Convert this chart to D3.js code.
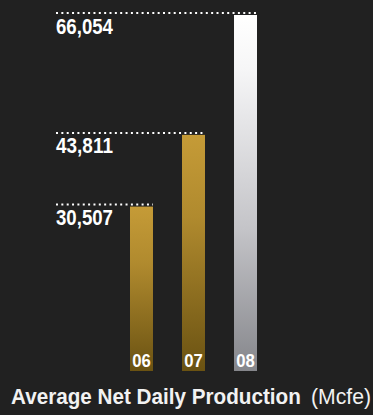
<!DOCTYPE html>
<html>
<head>
<meta charset="utf-8">
<script src="https://cdn.jsdelivr.net/npm/d3@7"></script>
<style>
    html, body { margin: 0; padding: 0; background: #212121; }
    svg { display: block; }
    text { font-family: 'Liberation Sans', Arial, sans-serif; }
</style>
</head>
<body>
<svg width="373" height="415"></svg>
<script>
const years = ['06', '07', '08'];
const production = [30507, 43811, 66054];
const valueLabels = ['30,507', '43,811', '66,054'];
const titleBold = 'Average Net Daily Production';
const titleUnit = '(Mcfe)';

const svg = d3.select('svg');

const xScale = d3.scaleBand()
    .domain(years)
    .range([130, 257])
    .paddingInner(0.558)
    .paddingOuter(0);

const yScale = d3.scaleLinear()
    .domain([0, d3.max(production)])
    .range([371, 15]);

// gradients: gold for older years, silver for latest
const defs = svg.append('defs');
const addGradient = (id, stops) => {
    const g = defs.append('linearGradient')
        .attr('id', id)
        .attr('x1', 0).attr('y1', 0)
        .attr('x2', 0).attr('y2', 1);
    stops.forEach(([o, c]) => g.append('stop').attr('offset', o).attr('stop-color', c));
};
addGradient('gold', [[0, '#c59b37'], [0.35, '#b08a2e'], [1, '#6a5212']]);
addGradient('silver', [[0, '#ffffff'], [0.15, '#f6f6f7'], [0.6, '#c4c4c8'], [1, '#85868b']]);

// squeeze text horizontally to the condensed widths of the reference
// (text is drawn at 0,0 and placed with a transform)
const squeeze = (sel, w, xFn, yFn) => {
    sel.each(function (d, i) {
        const natural = this.getComputedTextLength();
        const x = typeof xFn === 'function' ? xFn(d, i) : xFn;
        const y = typeof yFn === 'function' ? yFn(d, i) : yFn;
        d3.select(this).attr('transform', `translate(${x},${y}) scale(${w / natural},1)`);
    });
};

const rows = years.map((y, i) => ({ year: y, value: production[i], label: valueLabels[i] }));

svg.selectAll('rect.bar')
    .data(rows)
    .join('rect')
    .attr('class', 'bar')
    .attr('x', (d) => xScale(d.year))
    .attr('y', (d) => yScale(d.value))
    .attr('width', xScale.bandwidth())
    .attr('height', (d) => yScale(0) - yScale(d.value))
    .attr('fill', (d, i) => (i === rows.length - 1 ? 'url(#silver)' : 'url(#gold)'));

// dotted leader lines
svg.selectAll('line.leader')
    .data(rows)
    .join('line')
    .attr('class', 'leader')
    .attr('x1', 56)
    .attr('x2', (d) => xScale(d.year) + xScale.bandwidth())
    .attr('y1', (d) => yScale(d.value) - 2)
    .attr('y2', (d) => yScale(d.value) - 2)
    .attr('stroke', '#ffffff')
    .attr('stroke-width', 2)
    .attr('stroke-dasharray', '2,3.35');

svg.selectAll('text.value')
    .data(rows)
    .join('text')
    .attr('class', 'value')
    .attr('fill', '#ffffff')
    .attr('font-weight', 'bold')
    .attr('font-size', 21.5)
    .text((d) => d.label)
    .call(squeeze, 57, 56, (d) => yScale(d.value) + 18.5);

svg.selectAll('text.year')
    .data(rows)
    .join('text')
    .attr('class', 'year')
    .attr('fill', '#ffffff')
    .attr('font-weight', 'bold')
    .attr('font-size', 19)
    .text((d) => d.year)
    .call(squeeze, 18.6, (d) => xScale(d.year) + xScale.bandwidth() / 2 - 9.3, yScale(0) - 4);

svg.append('text')
    .attr('fill', '#f2f2f2')
    .attr('font-weight', 'bold')
    .attr('font-size', 22.5)
    .text(titleBold)
    .call(squeeze, 290, 11, 404);

svg.append('text')
    .attr('fill', '#f2f2f2')
    .attr('font-size', 22.5)
    .text(titleUnit)
    .call(squeeze, 60, 311, 404);
</script>
</body>
</html>
